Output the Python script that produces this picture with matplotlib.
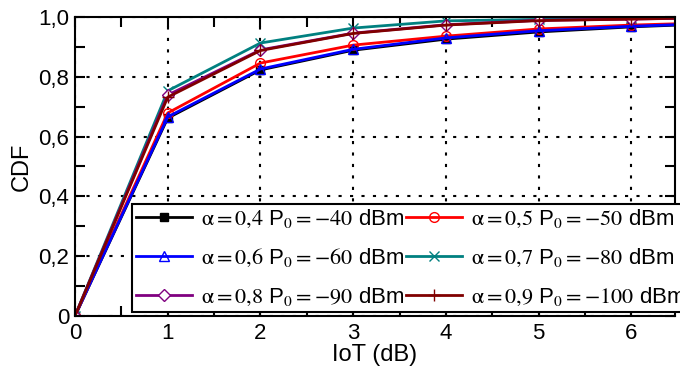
import matplotlib
matplotlib.use("Agg")
import matplotlib.pyplot as plt
from matplotlib.ticker import MultipleLocator, FuncFormatter

plt.rcParams['font.family'] = ['Liberation Sans', 'DejaVu Sans']
plt.rcParams['mathtext.fontset'] = 'stix'

# IoT values (dB) and CDF curves
iot = [0, 1, 2, 3, 4, 5, 6, 7]
cdf_a04 = [0.0, 0.662, 0.823, 0.889, 0.926, 0.950, 0.967, 0.979]
cdf_a05 = [0.0, 0.679, 0.846, 0.906, 0.936, 0.960, 0.973, 0.982]
cdf_a06 = [0.0, 0.666, 0.826, 0.892, 0.930, 0.954, 0.969, 0.980]
cdf_a07 = [0.0, 0.753, 0.913, 0.963, 0.987, 0.992, 0.995, 0.999]
cdf_a08 = [0.0, 0.739, 0.890, 0.946, 0.974, 0.989, 0.993, 0.998]
cdf_a09 = [0.0, 0.732, 0.888, 0.945, 0.973, 0.988, 0.993, 0.999]

alphas = ['0{,}4', '0{,}5', '0{,}6', '0{,}7', '0{,}8', '0{,}9']
p0 = ['-40', '-50', '-60', '-80', '-90', '-100']
labels = [r'$\mathrm{α} = %s$ P$_0$$= %s$ dBm' % (a, p) for a, p in zip(alphas, p0)]

fig = plt.figure(figsize=(6.8, 3.73), dpi=100)
ax = fig.add_axes([75 / 680, 57 / 373, 600 / 680, 299 / 373])

l1, = ax.plot(iot, cdf_a04, color='black', lw=2, marker='s', ms=6, mfc='black', label=labels[0])
l2, = ax.plot(iot, cdf_a05, color='#ff0000', lw=2, marker='o', ms=7, mfc='none', label=labels[1])
l3, = ax.plot(iot, cdf_a06, color='#0000ff', lw=2, marker='^', ms=7, mfc='none', label=labels[2])
l4, = ax.plot(iot, cdf_a07, color='#008080', lw=2, marker='x', ms=7, label=labels[3])
l5, = ax.plot(iot, cdf_a08, color='#800080', lw=2, marker='D', ms=6, mfc='white', label=labels[4])
l6, = ax.plot(iot, cdf_a09, color='#800000', lw=2, marker='+', ms=9, label=labels[5])

ax.set_xlim(0, 6.47)
ax.set_ylim(0, 1.0)
ax.xaxis.set_major_locator(MultipleLocator(1))
ax.xaxis.set_minor_locator(MultipleLocator(0.5))
ax.yaxis.set_major_locator(MultipleLocator(0.2))
ax.yaxis.set_minor_locator(MultipleLocator(0.1))
ax.yaxis.set_major_formatter(FuncFormatter(lambda v, p: f"{v:.1f}".replace('.', ',') if v > 0 else "0"))
ax.tick_params(which='both', direction='in', top=True, right=True, length=7, width=1.5, labelsize=16)
ax.tick_params(axis='x', pad=5)
ax.tick_params(axis='y', pad=4)
for s in ax.spines.values():
    s.set_linewidth(1.5)

ax.grid(True, which='major', color='black', linestyle=(0, (1.5, 4)), linewidth=1.5)

ax.set_xlabel('IoT (dB)', fontsize=17, labelpad=0)
ax.set_ylabel('CDF', fontsize=17, labelpad=4)

handles = [l1, l3, l5, l2, l4, l6]
leg = fig.legend(handles=handles, labels=[h.get_label() for h in handles],
                 ncol=2, loc='lower left', bbox_to_anchor=(132 / 680, 61 / 373),
                 fontsize=16, frameon=True, fancybox=False, framealpha=1,
                 edgecolor='black', borderpad=0.2, borderaxespad=0,
                 handlelength=2.5, handletextpad=0.4, columnspacing=0.1,
                 labelspacing=0.75)
leg.get_frame().set_linewidth(1.5)

fig.savefig('out.png', dpi=100)
